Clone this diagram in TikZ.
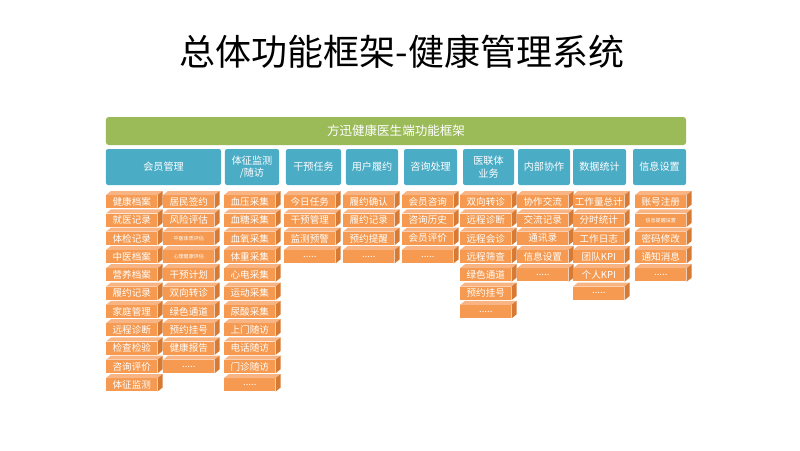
\documentclass[tikz,border=0pt]{standalone}
\usepackage{fontspec}
\setmainfont{Noto Sans CJK SC}
\usepackage{tikz}
\usetikzlibrary{positioning}
\definecolor{barGreen}{HTML}{9BBB59}
\definecolor{headBlue}{HTML}{4BACC6}
\definecolor{boxFront}{HTML}{F59A50}
\definecolor{boxTop}{HTML}{F8B483}
\definecolor{boxSide}{HTML}{D77A33}
\tikzstyle{topbar} = [
    rectangle,
    rounded corners=2pt,
    fill=barGreen,
    text=white,
    minimum width=14.5cm,
    minimum height=0.7cm,
    font=\fontsize{8.9}{10}\selectfont
]
\tikzstyle{header} = [
    rectangle,
    rounded corners=1.5pt,
    fill=headBlue,
    text=white,
    minimum height=0.9cm,
    inner sep=0pt,
    align=center,
    font=\fontsize{7.2}{9}\selectfont
]
\tikzstyle{featbox} = [
    rectangle,
    fill=boxFront,
    text=white,
    anchor=north west,
    minimum width=1.275cm,
    minimum height=0.325cm,
    inner sep=0pt,
    font=\fontsize{6.8}{7}\selectfont
]
\newcommand{\tinytxt}[1]{{\fontsize{3.6}{4}\selectfont #1}}
\newcommand{\moredots}{.....}
\newcommand{\featcol}[3]{%
    \foreach \t [count=\i] in {#3} {
        \node[featbox] (#1-\i) at (#2, {195+18.3*(\i-1)}) {\t};
        \fill[boxTop] (#1-\i.north west) -- ++(5,-4) -- ([shift={(5,-4)}]#1-\i.north east) -- (#1-\i.north east) -- cycle;
        \fill[boxSide] (#1-\i.north east) -- ++(5,-4) -- ([shift={(5,-4)}]#1-\i.south east) -- (#1-\i.south east) -- cycle;
    }%
}

\begin{document}
\begin{tikzpicture}[x=0.025cm, y=-0.025cm]
    \useasboundingbox (0,0) rectangle (800,450);
    \node (title) at (402,52) {\fontsize{25.6}{28}\selectfont 总体功能框架-健康管理系统};

    \node[topbar] (frame) at (396,131) {方迅健康医生端功能框架};

    % headers
    \node[header, minimum width=2.875cm] (member) at (163.5,167) {会员管理};
    \node[header, minimum width=1.35cm] (vital) at (252,167) {体征监测\\/随访};
    \node[header, minimum width=1.375cm] (interv) at (313.5,167) {干预任务};
    \node[header, minimum width=1.3cm] (contract) at (372,167) {用户履约};
    \node[header, minimum width=1.325cm] (consult) at (430.5,167) {咨询处理};
    \node[header, minimum width=1.275cm] (alliance) at (488.5,167) {医联体\\业务};
    \node[header, minimum width=1.3cm] (collab) at (544,167) {内部协作};
    \node[header, minimum width=1.325cm] (stats) at (599.5,167) {数据统计};
    \node[header, minimum width=1.325cm] (setting) at (659.5,167) {信息设置};

    % feature boxes
    \featcol{memberA}{106}{健康档案,就医记录,体检记录,中医档案,营养档案,履约记录,家庭管理,远程诊断,检查检验,咨询评价,体征监测}
    \featcol{memberB}{163}{居民签约,风险评估,\tinytxt{中医体质评估},\tinytxt{心理健康评估},干预计划,双向转诊,绿色通道,预约挂号,健康报告,\moredots}
    \featcol{vital}{224}{血压采集,血糖采集,血氧采集,体重采集,心电采集,运动采集,尿酸采集,上门随访,电话随访,门诊随访,\moredots}
    \featcol{interv}{284}{今日任务,干预管理,监测预警,\moredots}
    \featcol{contract}{343}{履约确认,履约记录,预约提醒,\moredots}
    \featcol{consult}{402}{会员咨询,咨询历史,会员评价,\moredots}
    \featcol{alliance}{460}{双向转诊,远程诊断,远程会诊,远程筛查,绿色通道,预约挂号,\moredots}
    \featcol{collab}{517}{协作交流,交流记录,通讯录,信息设置,\moredots}
    \featcol{stats}{573}{工作量总计,分时统计,工作日志,团队KPI,个人KPI,\moredots}
    \featcol{setting}{635}{账号注册,\tinytxt{信息提醒设置},密码修改,通知消息,\moredots}
\end{tikzpicture}
\end{document}
